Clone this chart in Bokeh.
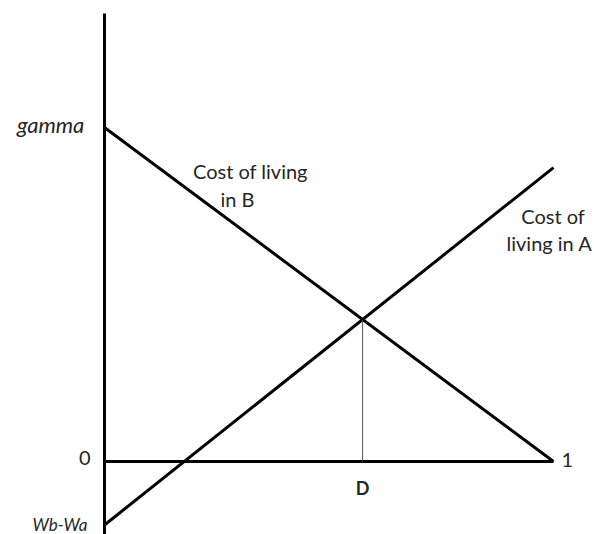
from bokeh.plotting import figure
from bokeh.models import Range1d
from bokeh.core.properties import value
from bokeh.embed import file_html
from bokeh.resources import INLINE

# Model values (data units)
gamma = 1.0          # intercept of cost of living in B at x=0
wb_wa = -0.19        # intercept of cost of living in A at x=0
a_at_one = 0.88      # cost of living in A at x=1
x_ends = [0.0, 1.0]
cost_b = [gamma, 0.0]
cost_a = [wb_wa, a_at_one]
y_axis_top = 1.341
y_axis_bottom = -0.25

# intersection D
slope_a = cost_a[1] - cost_a[0]
slope_b = cost_b[1] - cost_b[0]
d_x = (cost_a[0] - cost_b[0]) / (slope_b - slope_a)
d_y = cost_b[0] + slope_b * d_x

p = figure(width=594, height=534, output_backend="svg", toolbar_location=None,
           x_range=Range1d(-0.23163, 1.09131), y_range=Range1d(-0.21856, 1.38024),
           min_border=0, outline_line_color=None)
p.axis.visible = False
p.grid.visible = False

ink = "#000000"
# axes
p.line([0, 0], [y_axis_bottom, y_axis_top], line_width=3, line_color=ink)
p.line([0, 1], [0, 0], line_width=3, line_color=ink)
# cost lines
p.line(x_ends, cost_b, line_width=3, line_color=ink)
p.line(x_ends, cost_a, line_width=3, line_color=ink)
# drop line at D
p.line([d_x, d_x], [0, d_y], line_width=1, line_color="#555555")

font = value("Lato")
tc = "#262626"
p.text(x=[-0.045], y=[gamma + 0.008], text=["gamma"], text_font=font, text_font_size="22px",
       text_font_style="italic", text_align="right", text_baseline="middle", text_color=tc)
p.text(x=[-0.031], y=[0.009], text=["0"], text_font=font, text_font_size="20px",
       text_align="right", text_baseline="middle", text_color=tc)
p.text(x=[-0.038], y=[wb_wa], text=["Wb-Wa"], text_font=font, text_font_size="17px",
       text_font_style="italic", text_align="right", text_baseline="middle", text_color=tc)
p.text(x=[1.018], y=[0.003], text=["1"], text_font=font, text_font_size="20px",
       text_align="left", text_baseline="middle", text_color=tc)
p.text(x=[d_x], y=[-0.080], text=["D"], text_font=font, text_font_size="18px",
       text_font_style="bold", text_align="center", text_baseline="middle", text_color=tc)
p.text(x=[0.325, 0.296], y=[0.871, 0.787], text=["Cost of living", "in B"], text_font=font,
       text_font_size="20px", text_align="center", text_baseline="middle", text_color=tc)
p.text(x=[0.999, 0.991], y=[0.735, 0.653], text=["Cost of", "living in A"], text_font=font,
       text_font_size="20px", text_align="center", text_baseline="middle", text_color=tc)

open("out.html", "w").write(file_html(p, INLINE))
